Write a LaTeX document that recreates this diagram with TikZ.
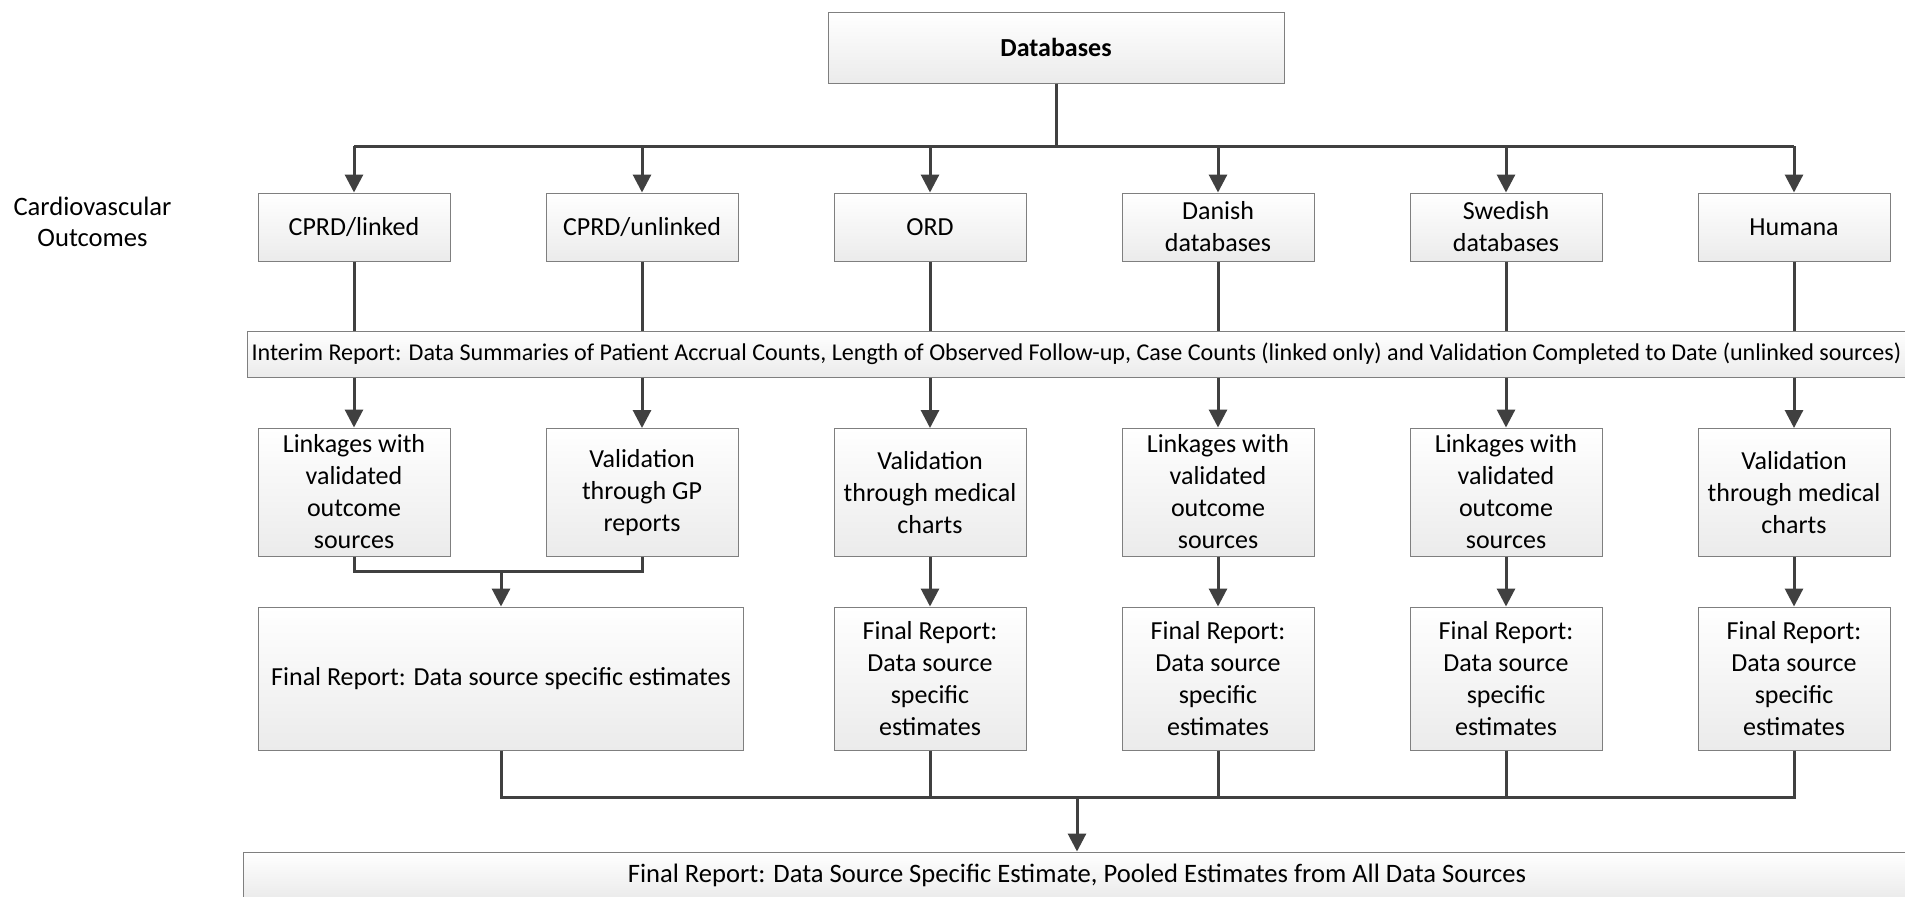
\documentclass[tikz,border=0pt]{standalone}
\usepackage{fontspec}
\setmainfont{Carlito}
\usetikzlibrary{arrows.meta}
\definecolor{linec}{HTML}{404040}
\definecolor{boxline}{HTML}{7F7F7F}
\definecolor{boxbot}{HTML}{EBEBEB}
\tikzset{
  box/.style={draw=boxline, line width=0.5pt, top color=white, bottom color=boxbot,
    align=center, inner sep=0pt, font=\fontsize{13}{16}\selectfont, text=black},
  topbox/.style={box, minimum width=96pt, minimum height=34pt},
  midbox/.style={box, minimum width=96pt, minimum height=64pt},
  finbox/.style={box, minimum width=96pt, minimum height=71.5pt},
  widebox/.style={box, font=\fontsize{12.05}{14}\selectfont},
  conn/.style={draw=linec, line width=1.5pt},
  arr/.style={conn, -{Triangle[width=9pt,length=9pt]}},
  lbl/.style={align=center, inner sep=0pt, font=\fontsize{13.3}{15.5}\selectfont}
}
\begin{document}
\begin{tikzpicture}[x=0.5pt,y=-0.5pt]
\useasboundingbox (0,0) rectangle (1905,896);
\clip (0,0) rectangle (1905,896);
\fill[white] (0,0) rectangle (1905,896);

% title
\node[box, minimum width=228pt, minimum height=35.5pt, font=\bfseries\fontsize{13}{16}\selectfont] (db) at (1056,47.5) {Databases};

\node[lbl] (cv) at (92.5,222) {Cardiovascular\\Outcomes};

% top row
\node[topbox] (a1) at (354,227) {CPRD/linked};
\node[topbox] (a2) at (642,227) {CPRD/unlinked};
\node[topbox] (a3) at (930,227) {ORD};
\node[topbox] (a4) at (1218,227) {Danish\\databases};
\node[topbox] (a5) at (1506,227) {Swedish\\databases};
\node[topbox] (a6) at (1794,227) {Humana};

% interim
\node[widebox, minimum width=829.5pt, minimum height=23pt] (int) at (1076.5,354)
  {Interim Report: Data Summaries of Patient Accrual Counts, Length of Observed Follow-up, Case Counts (linked only) and Validation Completed to Date (unlinked sources)};

% row 3
\node[midbox] (b1) at (354,492) {Linkages with\\validated\\outcome\\sources};
\node[midbox] (b2) at (642,492.5) {Validation\\through GP\\reports};
\node[midbox] (b3) at (930,492.5) {Validation\\through medical\\charts};
\node[midbox] (b4) at (1218,492) {Linkages with\\validated\\outcome\\sources};
\node[midbox] (b5) at (1506,492) {Linkages with\\validated\\outcome\\sources};
\node[midbox] (b6) at (1794,492.5) {Validation\\through medical\\charts};

% row 4
\node[box, minimum width=242.5pt, minimum height=71.5pt] (c12) at (501,678.5) {Final Report: Data source specific estimates};
\node[finbox] (c3) at (930,678.5) {Final Report:\\Data source\\specific\\estimates};
\node[finbox] (c4) at (1218,678.5) {Final Report:\\Data source\\specific\\estimates};
\node[finbox] (c5) at (1506,678.5) {Final Report:\\Data source\\specific\\estimates};
\node[finbox] (c6) at (1794,678.5) {Final Report:\\Data source\\specific\\estimates};

% final
\node[widebox, font=\fontsize{13.3}{15}\selectfont, minimum width=834pt, minimum height=23pt] (fin) at (1077,875)
  {Final Report: Data Source Specific Estimate, Pooled Estimates from All Data Sources};

% connectors: databases to top row
\coordinate (bus) at (1056,146);
\draw[conn] (db.south) -- (bus);
\draw[conn] (a1.north |- bus) -- (a6.north |- bus);
\foreach \n in {a1,a2,a3,a4,a5,a6}{
  \draw[arr] (\n.north |- bus) -- (\n.north);
}
% top row to interim
\foreach \n in {a1,a2,a3,a4,a5,a6}{
  \draw[conn] (\n.south) -- (\n.south |- int.north);
}
% interim to row 3
\foreach \n in {b1,b2,b3,b4,b5,b6}{
  \draw[arr] (\n.north |- int.south) -- (\n.north);
}
% CPRD merge
\coordinate (m) at (501,571);
\draw[conn] (b1.south) -- (b1.south |- m) -- (b2.south |- m) -- (b2.south);
\draw[arr] (m) -- (c12.north);
% row 3 to row 4
\draw[arr] (b3.south) -- (c3.north);
\draw[arr] (b4.south) -- (c4.north);
\draw[arr] (b5.south) -- (c5.north);
\draw[arr] (b6.south) -- (c6.north);
% row 4 to final
\coordinate (bb) at (1077,797);
\draw[conn] (c12.south) -- (c12.south |- bb) -- (c6.south |- bb) -- (c6.south);
\foreach \n in {c3,c4,c5}{
  \draw[conn] (\n.south) -- (\n.south |- bb);
}
\draw[arr] (bb) -- (fin.north);
\end{tikzpicture}
\end{document}
